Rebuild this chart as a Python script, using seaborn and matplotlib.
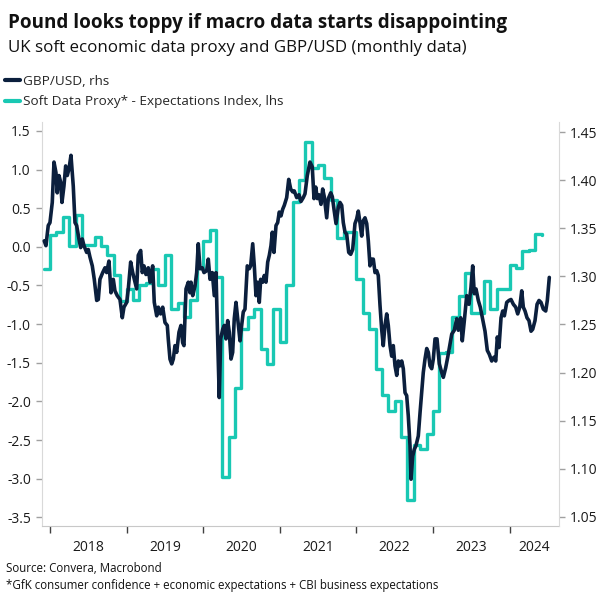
import matplotlib.pyplot as plt
import numpy as np
import pandas as pd
import seaborn as sns
from matplotlib.lines import Line2D

# GBP/USD (rhs): months since Jan 2018 and rate
gbp_months = [
    -0.9, -0.63, -0.27, 0.0, 0.36, 0.63, 0.94, 1.14, 1.41, 1.68, 1.88, 2.19, 2.46, 2.71, 2.98,
    3.29, 3.65, 3.92, 4.18, 4.54, 4.81, 5.06, 5.33, 5.75, 6.0, 6.27, 6.63, 6.94, 7.32, 7.57,
    7.83, 8.26, 8.62, 8.88, 9.24, 9.56, 9.92, 10.18, 10.54, 10.97, 11.33, 11.59, 12.02, 12.27,
    12.64, 12.96, 13.32, 13.58, 13.83, 14.21, 14.46, 14.73, 15.04, 15.4, 15.67, 16.09, 16.34,
    16.72, 16.97, 17.34, 17.66, 18.02, 18.38, 18.53, 18.8, 19.07, 19.32, 19.58, 19.85, 20.21,
    20.52, 20.79, 20.99, 21.31, 21.67, 21.93, 22.09, 22.36, 22.72, 22.98, 23.23, 23.5, 23.86,
    24.13, 24.55, 24.8, 25.07, 25.43, 25.74, 26.01, 26.27, 26.52, 26.74, 27.06, 27.31, 27.57,
    27.84, 28.09, 28.36, 28.62, 28.87, 29.14, 29.41, 29.77, 30.03, 30.28, 30.55, 30.91, 31.22,
    31.44, 31.76, 32.01, 32.27, 32.54, 32.79, 33.01, 33.32, 33.57, 33.84, 34.11, 34.36, 34.62,
    34.83, 35.09, 35.41, 35.67, 35.92, 36.19, 36.46, 36.71, 37.08, 37.4, 37.71, 38.02, 38.27,
    38.65, 39.01, 39.32, 39.68, 39.95, 40.31, 40.73, 41.09, 41.36, 41.63, 41.88, 42.14, 42.46,
    42.72, 42.97, 43.35, 43.6, 43.98, 44.23, 44.49, 44.81, 45.17, 45.43, 45.7, 45.95, 46.22,
    46.48, 46.8, 47.11, 47.42, 47.78, 48.05, 48.3, 48.56, 48.83, 49.08, 49.35, 49.62, 49.87,
    50.13, 50.4, 50.65, 50.92, 51.18, 51.43, 51.7, 51.96, 52.21, 52.48, 52.75, 53.0, 53.27,
    53.53, 53.78, 54.05, 54.32, 54.57, 54.83, 55.1, 55.35, 55.62, 55.88, 56.13, 56.4, 56.56,
    56.82, 57.07, 57.34, 57.7, 57.97, 58.23, 58.48, 58.75, 59.02, 59.27, 59.53, 59.8, 60.05,
    60.32, 60.63, 60.99, 61.37, 61.62, 61.99, 62.31, 62.67, 62.94, 63.34, 63.72, 63.97, 64.34,
    64.59, 64.91, 65.28, 65.64, 65.96, 66.22, 66.47, 66.74, 67.1, 67.41, 67.73, 68.15, 68.51,
    68.82, 69.2, 69.56, 69.83, 70.08, 70.34, 70.66, 70.92, 71.18, 71.55, 71.91, 72.22, 72.59,
    72.96, 73.27, 73.59, 73.9, 74.15, 74.42, 74.73, 75.04, 75.36, 75.62, 75.98, 76.3, 76.61,
    76.92, 77.28, 77.66, 77.91, 78.22,
]
gbp_usd = [
    1.337, 1.332, 1.353, 1.356, 1.377, 1.419, 1.408, 1.387, 1.405, 1.398, 1.377, 1.394, 1.415,
    1.405, 1.412, 1.426, 1.394, 1.356, 1.353, 1.339, 1.330, 1.339, 1.332, 1.325, 1.328, 1.320,
    1.311, 1.297, 1.275, 1.276, 1.297, 1.304, 1.309, 1.304, 1.316, 1.283, 1.297, 1.285, 1.280,
    1.276, 1.257, 1.268, 1.273, 1.287, 1.315, 1.304, 1.294, 1.287, 1.322, 1.327, 1.304, 1.311,
    1.302, 1.309, 1.294, 1.311, 1.273, 1.259, 1.268, 1.261, 1.268, 1.252, 1.249, 1.235, 1.214,
    1.209, 1.214, 1.228, 1.221, 1.242, 1.249, 1.231, 1.228, 1.287, 1.294, 1.283, 1.294, 1.280,
    1.290, 1.304, 1.334, 1.308, 1.309, 1.304, 1.306, 1.318, 1.297, 1.304, 1.280, 1.304, 1.235,
    1.174, 1.235, 1.245, 1.249, 1.235, 1.254, 1.242, 1.214, 1.221, 1.256, 1.273, 1.256, 1.233,
    1.249, 1.263, 1.266, 1.311, 1.308, 1.311, 1.334, 1.311, 1.280, 1.294, 1.273, 1.297, 1.294,
    1.301, 1.294, 1.315, 1.322, 1.332, 1.346, 1.325, 1.353, 1.356, 1.367, 1.363, 1.370, 1.374,
    1.382, 1.401, 1.391, 1.388, 1.389, 1.382, 1.385, 1.378, 1.382, 1.386, 1.405, 1.419, 1.414,
    1.381, 1.393, 1.381, 1.385, 1.375, 1.391, 1.383, 1.361, 1.381, 1.387, 1.383, 1.370, 1.355,
    1.372, 1.377, 1.374, 1.356, 1.346, 1.344, 1.325, 1.323, 1.328, 1.355, 1.360, 1.368, 1.356,
    1.342, 1.358, 1.361, 1.355, 1.337, 1.311, 1.318, 1.318, 1.304, 1.306, 1.301, 1.270, 1.245,
    1.228, 1.249, 1.261, 1.249, 1.228, 1.217, 1.228, 1.207, 1.197, 1.212, 1.207, 1.212, 1.204,
    1.179, 1.176, 1.155, 1.124, 1.089, 1.113, 1.120, 1.124, 1.134, 1.158, 1.179, 1.200, 1.214,
    1.225, 1.221, 1.207, 1.204, 1.214, 1.235, 1.235, 1.209, 1.200, 1.195, 1.205, 1.216, 1.230,
    1.240, 1.244, 1.256, 1.244, 1.257, 1.233, 1.254, 1.280, 1.271, 1.289, 1.311, 1.282, 1.287,
    1.275, 1.268, 1.257, 1.243, 1.223, 1.219, 1.212, 1.216, 1.212, 1.237, 1.226, 1.257, 1.264,
    1.259, 1.273, 1.275, 1.276, 1.271, 1.268, 1.261, 1.268, 1.285, 1.268, 1.264, 1.257, 1.254,
    1.243, 1.245, 1.254, 1.271, 1.275, 1.273, 1.266, 1.264, 1.275, 1.299,
]

# Soft data proxy (lhs), monthly from Dec 2017 to Jun 2024
soft_proxy = [
    -0.29, 0.15, 0.19, 0.38, 0.01, 0.41, 0.02, 0.02, 0.13, 0.01, -0.11, -0.37, -0.70, -0.54,
    -0.69, -0.50, -0.47, -0.29, -0.50, -0.11, -0.80, -0.73, -0.91, -0.69, -0.28, 0.07, 0.22,
    -0.39, -2.98, -2.46, -1.83, -1.06, -0.91, -0.80, -1.32, -1.51, -0.80, -1.23, -0.50, 0.58,
    0.86, 1.36, 1.02, 1.06, 0.89, 0.60, 0.12, 0.19, 0.19, -0.41, -0.86, -1.06, -1.58, -1.92,
    -2.13, -2.00, -2.46, -3.28, -2.57, -2.61, -2.42, -2.12, -1.38, -1.36, -0.91, -0.63, -0.34,
    -0.85, -0.85, -0.44, -0.81, -0.55, -0.55, -0.24, -0.27, -0.06, -0.04, 0.17, 0.15,
]
proxy_first_month = -1  # Dec 2017

years = [2018, 2019, 2020, 2021, 2022, 2023, 2024]
left_ticks = [-3.5, -3.0, -2.5, -2.0, -1.5, -1.0, -0.5, 0.0, 0.5, 1.0, 1.5]
right_ticks = [1.05, 1.10, 1.15, 1.20, 1.25, 1.30, 1.35, 1.40, 1.45]

NAVY = "#0b1f3d"
TEAL = "#19c8b3"

sns.set_style("white")
plt.rcParams["font.family"] = ["Open Sans", "DejaVu Sans"]

gbp_df = pd.DataFrame({"year": 2018 + np.array(gbp_months) / 12, "rate": gbp_usd})
soft_df = pd.DataFrame({
    "year": 2018 + (proxy_first_month + np.arange(len(soft_proxy))) / 12,
    "proxy": soft_proxy,
})

fig = plt.figure(figsize=(6.04, 6.04), dpi=100)
ax = fig.add_axes([42 / 604, 1 - 526 / 604, 517 / 604, 404 / 604])
ax2 = ax.twinx()

sns.lineplot(data=soft_df, x="year", y="proxy", ax=ax, color=TEAL, linewidth=2.4,
             drawstyle="steps-post", estimator=None)
sns.lineplot(data=gbp_df, x="year", y="rate", ax=ax2, color=NAVY, linewidth=2.6,
             estimator=None)

x_left, x_right = 2017.896, 2024.645
ax.set_xlim(x_left, x_right)
ax.set_ylim(-3.613, 1.616)
ax2.set_ylim(1.0403, 1.4607)

for a in (ax, ax2):
    a.set_xlabel("")
    a.set_ylabel("")
    for side in ("top", "left", "right", "bottom"):
        a.spines[side].set_visible(False)
ax.spines["left"].set_visible(True)
ax.spines["left"].set_color("#d9d9d9")
ax.spines["bottom"].set_visible(True)
ax.spines["bottom"].set_color("#c8c8c8")
ax2.spines["right"].set_visible(True)
ax2.spines["right"].set_color("#d9d9d9")

ax.set_yticks(left_ticks, [f"{v:.1f}" for v in left_ticks])
ax2.set_yticks(right_ticks, [f"{v:.2f}" for v in right_ticks])
ax.tick_params(axis="y", left=True, length=4, width=1, color="#a0a0a0", pad=4,
               labelsize=10, labelcolor="#1a1a1a")
ax2.tick_params(axis="y", right=True, length=4, width=1, color="#a0a0a0", pad=4,
                labelsize=10, labelcolor="#1a1a1a")

# year boundaries as ticks, labels centred in the visible part of each year
label_pos = [(max(y, x_left) + min(y + 1, x_right)) / 2 for y in years]
ax.set_xticks(years, [""] * len(years))
ax.set_xticks(label_pos, [str(y) for y in years], minor=True)
ax.tick_params(axis="x", which="major", bottom=True, length=5, width=1, color="#404040")
ax.tick_params(axis="x", which="minor", bottom=True, length=0, pad=10, labelsize=10,
               labelcolor="#1a1a1a")

fig.text(8 / 604, 1 - 23 / 604, "Pound looks toppy if macro data starts disappointing",
         fontsize=13.6, fontweight="bold", color="#111111", va="center")
fig.text(8 / 604, 1 - 48 / 604, "UK soft economic data proxy and GBP/USD (monthly data)",
         fontsize=12.2, color="#111111", va="center")

handles = [Line2D([], [], color=NAVY, linewidth=3), Line2D([], [], color=TEAL, linewidth=3)]
fig.legend(handles, ["GBP/USD, rhs", "Soft Data Proxy* - Expectations Index, lhs"],
           loc="upper left", bbox_to_anchor=(5 / 604, 1 - 75 / 604), frameon=False,
           fontsize=9.7, handlelength=1.1, handletextpad=0.25, labelspacing=0.55,
           borderpad=0, borderaxespad=0)

fig.text(6 / 604, 1 - 569 / 604, "Source: Convera, Macrobond", fontsize=8.3,
         color="#111111", va="center")
fig.text(6 / 604, 1 - 585 / 604,
         "*GfK consumer confidence + economic expectations + CBI business expectations",
         fontsize=8.3, color="#111111", va="center")

fig.savefig("out.png", dpi=100)
